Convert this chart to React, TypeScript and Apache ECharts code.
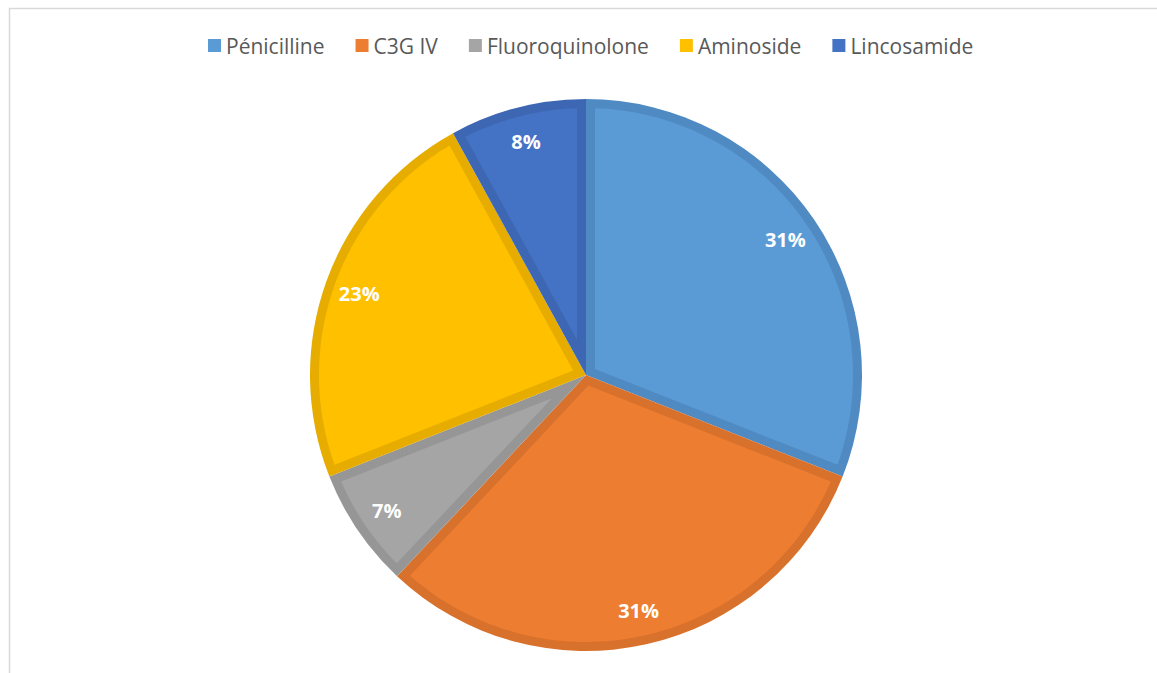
import React, { useEffect, useRef } from "react";
import * as echarts from "echarts";

const categories = ["Pénicilline", "C3G IV", "Fluoroquinolone", "Aminoside", "Lincosamide"];
const values = [31, 31, 7, 23, 8];
const fillColors = ["#5b9bd5", "#ed7d31", "#a5a5a5", "#ffc000", "#4472c4"];
const edgeColors = ["#4f8ac3", "#d8712c", "#969696", "#e6ad00", "#3e67b3"];

const CX = 586;
const CY = 375;
const R = 276;
const INSET = 9;

export default function App() {
  const ref = useRef<HTMLDivElement>(null);
  useEffect(() => {
    if (!ref.current) return;
    const chart = echarts.init(ref.current, undefined, { renderer: "svg" });
    const total = values.reduce((a, b) => a + b, 0);
    const starts: number[] = [];
    let acc = 0;
    values.forEach((v) => {
      starts.push(acc);
      acc += v;
    });
    const toXY = (theta: number, r: number) => [CX + r * Math.sin(theta), CY - r * Math.cos(theta)];

    const renderItem = (params: any, api: any) => {
      const i = params.dataIndex;
      const v = api.value(1);
      const a0 = (starts[i] / total) * Math.PI * 2;
      const a1 = a0 + (v / total) * Math.PI * 2;
      const half = (a1 - a0) / 2;
      const mid = a0 + half;
      const rho = R - INSET;
      const delta = Math.asin(INSET / rho);
      const pts: number[][] = [];
      pts.push(toXY(mid, INSET / Math.sin(half)));
      const s = a0 + delta;
      const e = a1 - delta;
      const n = 80;
      for (let k = 0; k <= n; k++) {
        pts.push(toXY(s + ((e - s) * k) / n, rho));
      }
      return {
        type: "polygon",
        shape: { points: pts },
        style: { fill: fillColors[i] },
      };
    };

    const pieData = categories.map((name, i) => ({
      name,
      value: values[i],
      itemStyle: { color: edgeColors[i] },
    }));

    chart.setOption({
      animation: false,
      graphic: [
        {
          type: "rect",
          shape: { x: 9.5, y: 8.5, width: 1200, height: 700 },
          style: { fill: "none", stroke: "#d9d9d9", lineWidth: 1.5 },
          silent: true,
        },
      ],
      legend: {
        top: 30,
        left: 203,
        itemWidth: 13,
        itemHeight: 13,
        itemGap: 31,
        icon: "rect",
        textStyle: { fontFamily: "Open Sans", fontSize: 21, color: "#595959" },
        data: categories.map((name, i) => ({ name, itemStyle: { color: fillColors[i] } })),
        selectedMode: false,
      },
      series: [
        {
          type: "pie",
          name: "edges",
          z: 1,
          center: [CX, CY],
          radius: [0, R],
          startAngle: 90,
          clockwise: true,
          silent: true,
          label: { show: false },
          labelLine: { show: false },
          data: pieData,
        },
        {
          type: "custom",
          z: 2,
          coordinateSystem: "none",
          silent: true,
          renderItem,
          data: values.map((v, i) => [i, v]),
        },
        {
          type: "pie",
          name: "labels",
          z: 3,
          center: [CX, CY],
          radius: [200, 276],
          startAngle: 90,
          clockwise: true,
          silent: true,
          itemStyle: { color: "rgba(0,0,0,0)" },
          label: {
            show: true,
            position: "inside",
            formatter: "{d}%",
            color: "#ffffff",
            fontFamily: "Open Sans",
            fontWeight: "bold",
            fontSize: 20,
          },
          labelLine: { show: false },
          data: categories.map((name, i) => ({ name, value: values[i] })),
        },
      ],
    });
    return () => chart.dispose();
  }, []);
  return (
    <div
      ref={ref}
      style={{ position: "fixed", left: 0, top: 0, width: 1157, height: 673, background: "#ffffff" }}
    />
  );
}
